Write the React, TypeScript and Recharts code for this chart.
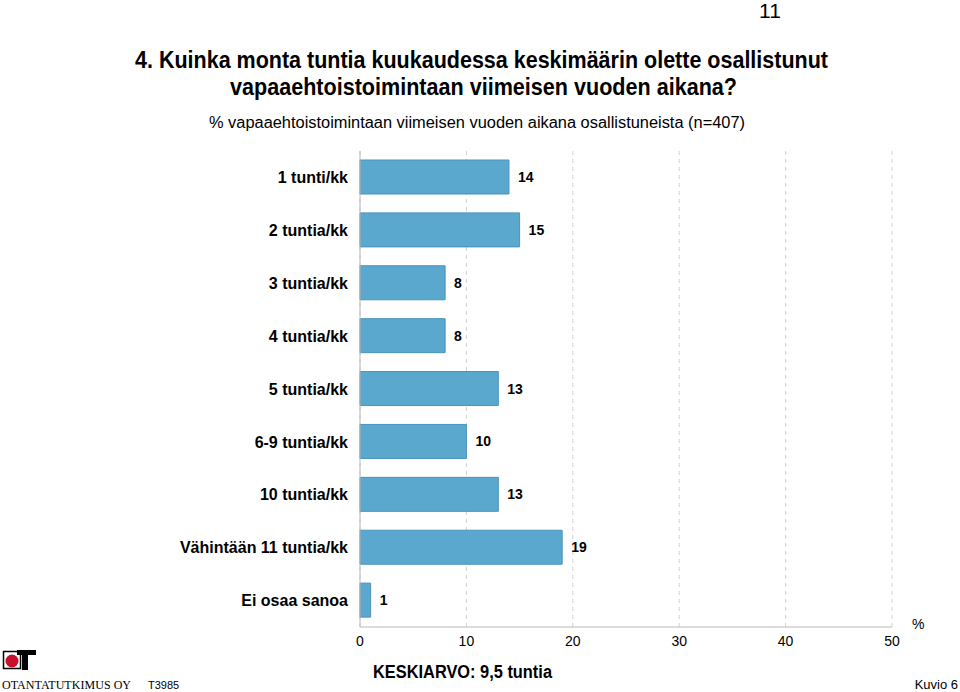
import React from 'react';
import { BarChart, Bar, XAxis, YAxis, CartesianGrid, LabelList } from 'recharts';

const categories = [
  '1 tunti/kk',
  '2 tuntia/kk',
  '3 tuntia/kk',
  '4 tuntia/kk',
  '5 tuntia/kk',
  '6-9 tuntia/kk',
  '10 tuntia/kk',
  'Vähintään 11 tuntia/kk',
  'Ei osaa sanoa',
];
const values = [14, 15, 8, 8, 13, 10, 13, 19, 1];
const xTicks = [0, 10, 20, 30, 40, 50];

const titleLine1 = '4. Kuinka monta tuntia kuukaudessa keskimäärin olette osallistunut';
const titleLine2 = 'vapaaehtoistoimintaan viimeisen vuoden aikana?';
const subtitle = '% vapaaehtoistoimintaan viimeisen vuoden aikana osallistuneista (n=407)';
const meanText = 'KESKIARVO: 9,5 tuntia';

const data = categories.map((name, i) => ({ name, value: values[i] }));

const FONT = '"Liberation Sans", Arial, sans-serif';
const NARROW = '"Liberation Sans Narrow", "Liberation Sans", Arial, sans-serif';

export default function App() {
  return (
    <div style={{ position: 'absolute', left: 0, top: 0, width: 960, height: 692, background: '#fff', fontFamily: FONT }}>
      <BarChart
        width={960}
        height={692}
        data={data}
        layout="vertical"
        margin={{ top: 151, right: 68, bottom: 35, left: 0 }}
        barSize={34}
      >
        <CartesianGrid horizontal={false} vertical stroke="#d2d2d2" strokeDasharray="4 4" />
        <XAxis
          type="number"
          domain={[0, 50]}
          ticks={xTicks}
          height={30}
          tickLine={false}
          tickMargin={3}
          axisLine={{ stroke: '#b8b8b8' }}
          tick={{ fontSize: 14, fill: '#000', fontFamily: FONT }}
        />
        <XAxis
          xAxisId="top"
          orientation="top"
          type="number"
          domain={[0, 50]}
          height={0}
          tick={false}
          tickLine={false}
          axisLine={{ stroke: '#d0d0d0' }}
        />
        <YAxis
          type="category"
          dataKey="name"
          width={360}
          tickLine={false}
          tickMargin={6}
          axisLine={{ stroke: '#b8b8b8' }}
          tick={{ fontSize: 16, fontWeight: 'bold', fill: '#000', fontFamily: FONT }}
        />
        <Bar dataKey="value" fill="#5ba8cf" stroke="#4a93bb" strokeWidth={1} isAnimationActive={false}>
          <LabelList
            dataKey="value"
            position="right"
            offset={9}
            style={{ fontSize: 14, fontWeight: 'bold', fill: '#000', fontFamily: FONT }}
          />
        </Bar>
      </BarChart>
      <svg width={960} height={692} style={{ position: 'absolute', left: 0, top: 0, pointerEvents: 'none' }}>
        <text x={770} y={18} textAnchor="middle" fontSize={21} fontFamily={FONT} fill="#000">11</text>
        <text x={135} y={68} fontSize={23.5} fontWeight="bold" fontFamily={NARROW} textLength={693} lengthAdjust="spacingAndGlyphs" fill="#000">
          {titleLine1}
        </text>
        <text x={230} y={95} fontSize={23.5} fontWeight="bold" fontFamily={NARROW} textLength={507} lengthAdjust="spacingAndGlyphs" fill="#000">
          {titleLine2}
        </text>
        <text x={209} y={128} fontSize={16} fontFamily={FONT} textLength={536} lengthAdjust="spacingAndGlyphs" fill="#000">
          {subtitle}
        </text>
        <text x={912} y={629} fontSize={14} fontFamily={FONT} fill="#000">%</text>
        <text x={373} y={678} fontSize={17.5} fontWeight="bold" fontFamily={FONT} textLength={179} lengthAdjust="spacingAndGlyphs" fill="#000">
          {meanText}
        </text>
        <text x={958} y={689} textAnchor="end" fontSize={13} fontFamily={FONT} fill="#000">Kuvio 6</text>
        <rect x={3.5} y={651.5} width={17} height={17} fill="#fff" stroke="#000" strokeWidth={1.5} />
        <circle cx={12} cy={661} r={6.5} fill="#c8102e" />
        <rect x={17} y={650} width={19} height={5} fill="#000" />
        <rect x={22} y={650} width={6} height={20} fill="#000" />
        <text x={2} y={689} fontSize={12} fontFamily={'"Liberation Serif", "DejaVu Serif", serif'} textLength={129} lengthAdjust="spacing" fill="#000">
          OTANTATUTKIMUS OY
        </text>
        <text x={148} y={689} fontSize={11} fontFamily={FONT} fill="#000">T3985</text>
      </svg>
    </div>
  );
}
